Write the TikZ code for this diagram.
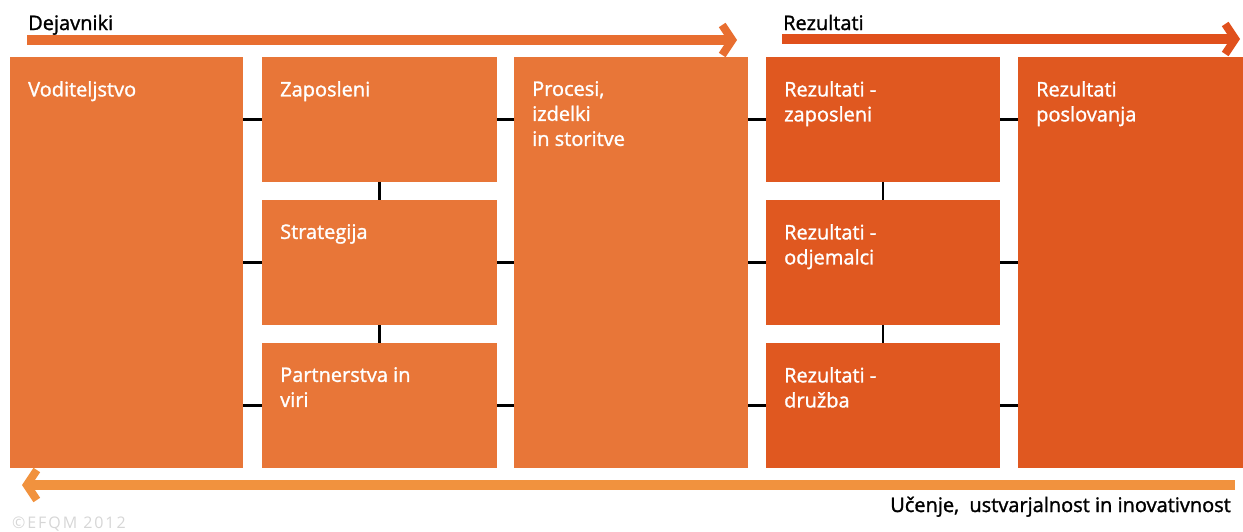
\documentclass[tikz,border=0pt]{standalone}
\usepackage{fontspec}
\setmainfont{Open Sans}
\newfontfamily\boxfont[FakeBold=1.4]{Open Sans}
\newfontfamily\markfont[LetterSpace=12]{Open Sans}
\usetikzlibrary{arrows.meta}

\definecolor{dejfill}{RGB}{232,118,56}
\definecolor{rezfill}{RGB}{224,88,32}
\definecolor{dejbar}{RGB}{232,110,48}
\definecolor{rezbar}{RGB}{224,80,28}
\definecolor{learnbar}{RGB}{241,146,62}

\tikzset{
  dejbox/.style={fill=dejfill, anchor=north west, inner sep=0pt},
  rezbox/.style={fill=rezfill, anchor=north west, inner sep=0pt},
  boxtext/.style={anchor=north west, inner sep=0pt, text=white, align=left, font=\boxfont\fontsize{20}{25}\selectfont},
  headtext/.style={inner sep=0pt, font=\boxfont\fontsize{20}{25}\selectfont},
  link/.style={line width=2.5pt, black},
  bar/.style={line width=10pt, -{Straight Barb[length=10pt,width=30pt,line width=8pt]}},
}

\begin{document}
\begin{tikzpicture}[x=1pt,y=1pt,yscale=-1]

\useasboundingbox (0,0) rectangle (1243,531);

% boxes
\node[dejbox, minimum width=233, minimum height=411] (vod) at (10,57) {};

\node[dejbox, minimum width=235, minimum height=125] (zap) at (262,57) {};

\node[dejbox, minimum width=235, minimum height=125] (str) at (262,200) {};

\node[dejbox, minimum width=235, minimum height=125] (par) at (262,343) {};

\node[dejbox, minimum width=234, minimum height=411] (pro) at (514,57) {};

\node[rezbox, minimum width=234, minimum height=125] (rzap) at (766,57) {};

\node[rezbox, minimum width=234, minimum height=125] (rodj) at (766,200) {};

\node[rezbox, minimum width=234, minimum height=125] (rdru) at (766,343) {};

\node[rezbox, minimum width=225, minimum height=411] (rpos) at (1018,57) {};

% box texts
\node[boxtext] (vodtxt) at ([shift={(18,24)}]vod.north west) {Voditeljstvo};

\node[boxtext] (zaptxt) at ([shift={(18,24)}]zap.north west) {Zaposleni};

\node[boxtext] (strtxt) at ([shift={(18,24)}]str.north west) {Strategija};

\node[boxtext] (partxt) at ([shift={(18,24)}]par.north west) {Partnerstva in\\viri};

\node[boxtext] (protxt) at ([shift={(18,24)}]pro.north west) {Procesi,\\izdelki\\in storitve};

\node[boxtext] (rzaptxt) at ([shift={(18,24)}]rzap.north west) {Rezultati -\\zaposleni};

\node[boxtext] (rodjtxt) at ([shift={(18,24)}]rodj.north west) {Rezultati -\\odjemalci};

\node[boxtext] (rdrutxt) at ([shift={(18,24)}]rdru.north west) {Rezultati -\\družba};

\node[boxtext] (rpostxt) at ([shift={(18,24)}]rpos.north west) {Rezultati\\poslovanja};

% links
\draw[link] (zap.west) -- (zap.west -| vod.east);
\draw[link] (str.west) -- (str.west -| vod.east);
\draw[link] (par.west) -- (par.west -| vod.east);
\draw[link] (zap.south) -- (str.north);
\draw[link] (str.south) -- (par.north);
\draw[link] (zap.east) -- (zap.east -| pro.west);
\draw[link] (str.east) -- (str.east -| pro.west);
\draw[link] (par.east) -- (par.east -| pro.west);

\draw[link] (rzap.west) -- (rzap.west -| pro.east);
\draw[link] (rodj.west) -- (rodj.west -| pro.east);
\draw[link] (rdru.west) -- (rdru.west -| pro.east);
\draw[link] (rzap.south) -- (rodj.north);
\draw[link] (rodj.south) -- (rdru.north);
\draw[link] (rzap.east) -- (rzap.east -| rpos.west);
\draw[link] (rodj.east) -- (rodj.east -| rpos.west);
\draw[link] (rdru.east) -- (rdru.east -| rpos.west);

% arrows
\coordinate (dejstart) at (27,40);
\coordinate (dejend) at (737,40);
\coordinate (rezstart) at (782,39);
\coordinate (rezend) at (1240,39);
\coordinate (learnstart) at (1235,485);
\coordinate (learnend) at (22,485);

\draw[bar, dejbar] (dejstart) -- (dejend);

\draw[bar, rezbar] (rezstart) -- (rezend);

\draw[bar, learnbar] (learnstart) -- (learnend);

% labels
\node[headtext, anchor=base west] (dejlbl) at (28,30) {Dejavniki};

\node[headtext, anchor=base west] (rezlbl) at (783,30) {Rezultati};

\node[headtext, anchor=base east] (learnlbl) at (1231,512) {Učenje,\ \ ustvarjalnost in inovativnost};

\node[inner sep=0pt, anchor=base west, text=black!16, font=\markfont\fontsize{16}{18}\selectfont] (efqm) at (12,528) {©EFQM 2012};

\end{tikzpicture}
\end{document}
